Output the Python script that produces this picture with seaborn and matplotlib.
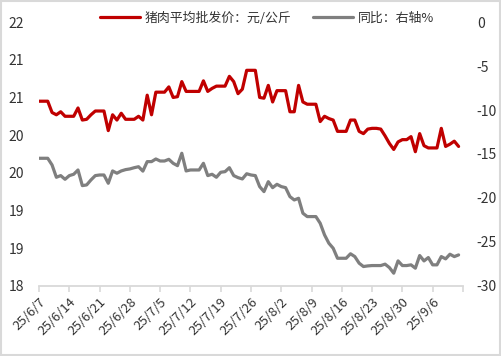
import pandas as pd
import numpy as np
import matplotlib
matplotlib.use("Agg")
import matplotlib.pyplot as plt
import matplotlib.dates as mdates
from matplotlib.ticker import FuncFormatter
from matplotlib.patches import Rectangle
import seaborn as sns

# 数据（按图读取，日度，从 25/6/7 开始）
start_date = "2025-06-07"
end_axis = "2025-09-13"

price = [
    20.45, 20.45, 20.45,
    20.30, 20.27, 20.31, 20.25, 20.25, 20.25, 20.36,
    20.20, 20.21, 20.27, 20.32, 20.32, 20.32, 20.06,
    20.27, 20.20, 20.29, 20.21, 20.21, 20.21, 20.25, 20.20,
    20.53, 20.27, 20.57, 20.57, 20.57, 20.64, 20.50, 20.51,
    20.71, 20.58, 20.58, 20.58, 20.58, 20.72, 20.58, 20.62,
    20.65, 20.65, 20.65, 20.78, 20.71, 20.55, 20.61, 20.86,
    20.86, 20.86, 20.50, 20.49, 20.66, 20.44, 20.59, 20.59,
    20.59, 20.31, 20.31, 20.66, 20.44, 20.41, 20.41, 20.41,
    20.18, 20.25, 20.22, 20.20, 20.05, 20.05, 20.05, 20.20,
    20.20, 20.05, 20.02, 20.08, 20.09, 20.09, 20.08, 19.99,
    19.89, 19.81, 19.91, 19.94, 19.94, 19.98, 19.78, 20.02,
    19.86, 19.83, 19.83, 19.83, 20.09, 19.85, 19.88, 19.92, 19.85,
]

yoy = [
    -15.49, -15.49, -15.49,
    -16.25, -17.65, -17.46, -17.88, -17.46, -17.31, -16.82,
    -18.60, -18.52, -17.95, -17.46, -17.39, -17.39, -18.33,
    -16.93, -17.19, -16.93, -16.78, -16.70, -16.56, -16.45, -16.95,
    -15.87, -15.87, -15.57, -15.80, -15.80, -15.61, -16.06, -16.33,
    -14.92, -16.93, -16.82, -16.82, -16.82, -16.06, -17.46, -17.31,
    -17.65, -17.08, -17.01, -16.56, -17.46, -17.69, -17.84, -17.25,
    -17.39, -17.46, -18.71, -19.28, -18.15, -18.83, -18.45, -18.71,
    -18.83, -19.85, -20.23, -20.04, -21.74, -22.12, -22.12, -22.12,
    -22.88, -24.20, -25.15, -25.72, -26.86, -26.86, -26.86, -26.35,
    -26.67, -27.42, -27.80, -27.73, -27.69, -27.69, -27.69, -27.53,
    -27.92, -28.56, -27.16, -27.69, -27.69, -27.61, -27.99, -26.55,
    -27.16, -26.78, -27.61, -27.61, -26.67, -26.93, -26.40, -26.67, -26.48,
]

left_ticks = [18, 18.5, 19, 19.5, 20, 20.5, 21, 21.5]
left_labels = ["18", "19", "19", "20", "20", "21", "21", "22"]
right_ticks = [-30, -25, -20, -15, -10, -5, 0]
right_labels = ["-30", "-25", "-20", "-15", "-10", "-5", "0"]

price_label = "猪肉平均批发价：元/公斤"
yoy_label = "同比：右轴%"

red = "#C00000"
grey = "#7F7F7F"
text_col = "#333333"

dates = pd.date_range(start_date, periods=len(price), freq="D")
df = pd.DataFrame({"date": dates, "price": price, "yoy": yoy})

sns.set_theme(style="white")
plt.rcParams["font.family"] = ["Noto Sans CJK SC", "DejaVu Sans"]

fig = plt.figure(figsize=(5.01, 3.56), dpi=100)
ax = fig.add_axes([0.078, 0.197, 0.846, 0.741])
ax2 = ax.twinx()

sns.lineplot(data=df, x="date", y="price", ax=ax, color=red, linewidth=2.3, label=price_label, legend=False)
sns.lineplot(data=df, x="date", y="yoy", ax=ax2, color=grey, linewidth=2.3, label=yoy_label, legend=False)

# x 轴
week_ticks = pd.date_range(start_date, end_axis, freq="7D")
ax.set_xlim(mdates.date2num(dates[0]), mdates.date2num(pd.Timestamp(end_axis)))
ax.set_xticks(mdates.date2num(week_ticks))
last = dates[-1]

def fmt_date(v, pos):
    d = mdates.num2date(v).replace(tzinfo=None)
    if d > last:
        return ""
    return f"{d.year % 100}/{d.month}/{d.day}"

ax.xaxis.set_major_formatter(FuncFormatter(fmt_date))
for lbl in ax.get_xticklabels():
    lbl.set_rotation(45)
    lbl.set_ha("right")
    lbl.set_rotation_mode("anchor")
ax.tick_params(axis="x", length=4, width=1.2, color="#D9D9D9", labelsize=9.5,
               labelcolor=text_col, pad=3, direction="out", bottom=True)

# y 轴
ax.set_ylim(18, 21.5)
ax.set_yticks(left_ticks)
ax.set_yticklabels(left_labels)
ax.tick_params(axis="y", length=0, labelsize=10, labelcolor=text_col, pad=11)
ax2.set_ylim(-30, 0)
ax2.set_yticks(right_ticks)
ax2.set_yticklabels(right_labels)
ax2.tick_params(axis="y", length=0, labelsize=10, labelcolor=text_col, pad=10)

ax.set_xlabel("")
ax.set_ylabel("")
ax2.set_ylabel("")

for a in (ax, ax2):
    for s in ("left", "right", "top"):
        a.spines[s].set_visible(False)
ax2.spines["bottom"].set_visible(False)
ax.spines["bottom"].set_color("#D9D9D9")
ax.spines["bottom"].set_linewidth(1.3)
ax.grid(False)
ax2.grid(False)

# 图例
h1, l1 = ax.get_legend_handles_labels()
h2, l2 = ax2.get_legend_handles_labels()
fig.legend(h1 + h2, l1 + l2, loc="center", bbox_to_anchor=(0.533, 0.949), ncol=2,
           frameon=False, fontsize=9.3, handlelength=3.1, handletextpad=0.35,
           columnspacing=1.7, labelcolor=text_col)

# 外框
fig.patches.append(Rectangle((0.002, 0.003), 0.996, 0.994, transform=fig.transFigure,
                             fill=False, edgecolor="#D9D9D9", linewidth=1.5))

fig.savefig("out.png", dpi=100)
